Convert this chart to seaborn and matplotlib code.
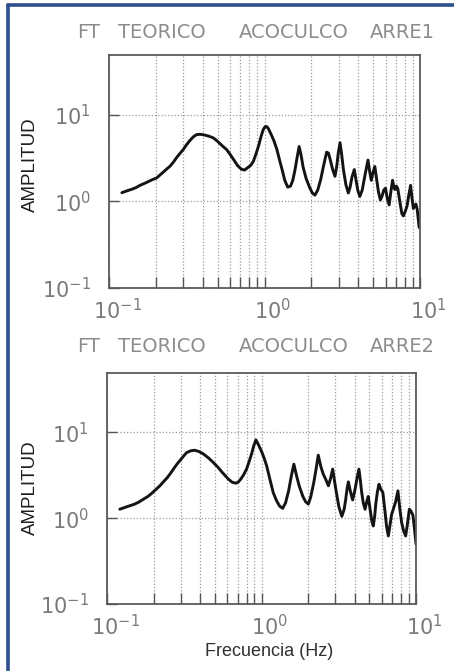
import matplotlib
matplotlib.use("Agg")
import matplotlib.pyplot as plt
import matplotlib.transforms as mtransforms
from matplotlib.lines import Line2D
from matplotlib.ticker import FixedLocator, NullLocator, LogFormatterSciNotation
import pandas as pd
import seaborn as sns

# Theoretical transfer function, array 1 (frequency in Hz, amplitude)
freq_arre1 = [0.121, 0.13, 0.14, 0.15, 0.158, 0.17, 0.18, 0.19, 0.203, 0.215,
              0.225, 0.236, 0.247, 0.26, 0.272, 0.285, 0.30, 0.315, 0.33, 0.348,
              0.366, 0.385, 0.41, 0.44, 0.469, 0.495, 0.52, 0.545, 0.571, 0.60,
              0.64, 0.67, 0.71, 0.745, 0.78, 0.815, 0.848, 0.885, 0.92, 0.95,
              0.98, 1.01, 1.035, 1.06, 1.10, 1.15, 1.20, 1.25, 1.30, 1.35,
              1.41, 1.47, 1.52, 1.57, 1.62, 1.67, 1.72, 1.77, 1.85, 1.95,
              2.03, 2.11, 2.20, 2.30, 2.40, 2.51, 2.58, 2.65, 2.75, 2.84,
              2.92, 2.98, 3.06, 3.14, 3.22, 3.34, 3.46, 3.55, 3.65, 3.78,
              3.88, 3.98, 4.10, 4.25, 4.45, 4.63, 4.75, 4.86, 4.97, 5.12,
              5.25, 5.40, 5.56, 5.70, 5.85, 6.00, 6.15, 6.33, 6.50, 6.66,
              6.80, 6.90, 7.05, 7.20, 7.45, 7.65, 7.82, 8.00, 8.25, 8.45,
              8.70, 8.88, 9.06, 9.25, 9.42, 9.60, 9.75, 9.88]
amp_arre1 = [1.26, 1.32, 1.38, 1.45, 1.53, 1.62, 1.70, 1.78, 1.87, 2.05,
             2.2, 2.38, 2.55, 2.85, 3.2, 3.55, 3.96, 4.5, 5.0, 5.55,
             5.9, 5.95, 5.85, 5.65, 5.4, 5.0, 4.6, 4.25, 3.96, 3.5,
             2.95, 2.6, 2.35, 2.3, 2.45, 2.6, 2.9, 3.6, 4.5, 5.6,
             6.7, 7.3, 7.3, 6.9, 6.0, 5.0, 4.0, 3.0, 2.3, 1.75,
             1.46, 1.5, 1.75, 2.3, 3.2, 4.3, 3.4, 2.5, 1.85, 1.45,
             1.25, 1.18, 1.35, 1.8, 2.6, 3.7, 3.6, 3.0, 2.3, 1.95,
             2.6, 3.6, 4.75, 3.4, 2.3, 1.55, 1.25, 1.45, 1.9, 2.33,
             1.75, 1.35, 1.14, 1.35, 2.1, 3.0, 2.2, 1.75, 2.1, 2.53,
             1.85, 1.3, 1.04, 1.15, 1.35, 1.42, 1.1, 0.91, 1.3, 1.75,
             1.45, 1.37, 1.5, 1.4, 0.95, 0.72, 0.68, 0.75, 0.88, 1.15,
             1.53, 1.1, 0.83, 0.9, 0.93, 0.8, 0.62, 0.50]

# Theoretical transfer function, array 2
freq_arre2 = [0.121, 0.135, 0.15, 0.16, 0.172, 0.185, 0.195, 0.207, 0.22, 0.232,
              0.245, 0.257, 0.269, 0.285, 0.30, 0.315, 0.328, 0.35, 0.37, 0.395,
              0.42, 0.455, 0.488, 0.52, 0.55, 0.58, 0.61, 0.645, 0.684, 0.71,
              0.74, 0.77, 0.80, 0.83, 0.86, 0.89, 0.92, 0.95, 1.00, 1.04,
              1.08, 1.13, 1.19, 1.25, 1.31, 1.37, 1.43, 1.50, 1.56, 1.62,
              1.68, 1.75, 1.85, 1.93, 2.01, 2.08, 2.18, 2.26, 2.33, 2.42,
              2.51, 2.60, 2.71, 2.80, 2.89, 2.97, 3.05, 3.17, 3.31, 3.42,
              3.50, 3.58, 3.65, 3.76, 3.89, 4.02, 4.15, 4.27, 4.36, 4.45,
              4.56, 4.68, 4.80, 4.91, 5.05, 5.18, 5.29, 5.40, 5.50, 5.62,
              5.76, 5.90, 6.10, 6.30, 6.45, 6.62, 6.80, 6.95, 7.13, 7.38,
              7.64, 7.85, 8.07, 8.30, 8.57, 8.80, 9.06, 9.30, 9.55, 9.78,
              10.0]
amp_arre2 = [1.27, 1.36, 1.45, 1.53, 1.66, 1.8, 1.95, 2.15, 2.38, 2.65,
             2.95, 3.3, 3.72, 4.3, 4.8, 5.35, 5.8, 6.1, 6.17, 5.95,
             5.6, 5.0, 4.44, 3.95, 3.5, 3.15, 2.85, 2.62, 2.55, 2.65,
             2.9, 3.25, 3.72, 4.5, 5.5, 6.9, 8.15, 7.3, 6.0, 5.0,
             4.06, 2.9, 1.99, 1.6, 1.38, 1.30, 1.5, 2.1, 3.1, 4.25,
             3.2, 2.4, 1.8, 1.55, 1.46, 1.75, 2.6, 3.8, 5.41, 4.0,
             3.25, 2.85, 2.38, 2.9, 3.72, 2.7, 2.0, 1.35, 1.05, 1.25,
             1.6, 2.2, 2.64, 2.05, 1.63, 2.1, 2.9, 3.72, 2.8, 2.0,
             1.5, 1.27, 1.55, 1.79, 1.25, 0.92, 0.81, 1.05, 1.5, 2.0,
             2.48, 2.2, 1.99, 1.2, 0.8, 0.62, 0.85, 1.1, 1.27, 1.55,
             2.08, 1.3, 0.89, 0.72, 0.62, 0.85, 1.27, 1.2, 1.08, 0.75,
             0.50]

site = "ACOCULCO"
method_words = ["FT", "TEORICO"]
array_names = ["ARRE1", "ARRE2"]
x_label = "Frecuencia (Hz)"
y_label = "AMPLITUD"
x_ticks = [0.1, 1.0, 10.0]
y_ticks = [0.1, 1.0, 10.0]

sns.set_theme(style="white")
plt.rcParams["font.family"] = ["DejaVu Sans"]
plt.rcParams["mathtext.fontset"] = "dejavusans"

W, H = 454, 671
fig = plt.figure(figsize=(W / 100, H / 100), dpi=100)
fig.patch.set_facecolor("white")


def fx(px):
    return px / W


def fy(py):
    return 1 - py / H


panels = [
    dict(freq=freq_arre1, amp=amp_arre1, name=array_names[0],
         rect=(109, 55, 420, 288), title_y=33, ylab_y=165),
    dict(freq=freq_arre2, amp=amp_arre2, name=array_names[1],
         rect=(107, 373, 416, 604), title_y=347, ylab_y=488),
]

minor_x = [m * 10.0 ** e for e in (-1, 0) for m in range(2, 10)]
tick_color = "#7a7a7a"
grid_style = dict(linestyle=(0, (1, 1.6)), color="#9c9c9c", linewidth=0.9)

for p in panels:
    x0, y0, x1, y1 = p["rect"]
    ax = fig.add_axes([fx(x0), fy(y1), fx(x1) - fx(x0), (y1 - y0) / H])
    df = pd.DataFrame({"f": p["freq"], "a": p["amp"]})
    sns.lineplot(data=df, x="f", y="a", ax=ax, color="#141414", linewidth=2.1,
                 sort=False, estimator=None)
    ax.set_xscale("log")
    ax.set_yscale("log")
    ax.set_xlim(0.1, 10)
    ax.set_ylim(0.1, 10 ** 1.69)

    ax.xaxis.set_major_locator(FixedLocator(x_ticks))
    ax.xaxis.set_minor_locator(FixedLocator(minor_x))
    ax.yaxis.set_major_locator(FixedLocator(y_ticks))
    ax.yaxis.set_minor_locator(NullLocator())
    ax.xaxis.set_major_formatter(LogFormatterSciNotation())
    ax.yaxis.set_major_formatter(LogFormatterSciNotation())

    ax.grid(True, which="both", axis="x", **grid_style)
    ax.grid(True, which="major", axis="y", **grid_style)

    ax.tick_params(axis="x", which="both", direction="in", length=8, width=1.0,
                   color="#555555", bottom=True, top=False, labelcolor=tick_color,
                   labelsize=15, pad=7)
    ax.tick_params(axis="y", which="major", direction="in", length=7, width=1.0,
                   color="#555555", left=True, right=False, labelcolor=tick_color,
                   labelsize=15, pad=13)
    for s in ax.spines.values():
        s.set_visible(True)
        s.set_color("#5a5a5a")
        s.set_linewidth(1.3)
    ax.set_xlabel("")
    ax.set_ylabel("")

    # keep the mantissa "10" centred on each decade tick
    shift = mtransforms.ScaledTranslation(6 / 72, 0, fig.dpi_scale_trans)
    for lbl in ax.get_xticklabels():
        lbl.set_transform(lbl.get_transform() + shift)

    # panel heading
    tkw = dict(color="#8c8c8c", fontsize=14, va="center")
    ty = fy(p["title_y"])
    fig.text(fx(77), ty, method_words[0], ha="left", **tkw)
    fig.text(fx(118), ty, method_words[1], ha="left", **tkw)
    fig.text(fx(294), ty, site, ha="center", **tkw)
    fig.text(fx(402), ty, p["name"], ha="center", **tkw)

    fig.text(fx(30), fy(p["ylab_y"]), y_label, rotation=90, ha="center", va="center",
             fontsize=13.5, color="#1e1e1e", family=["Liberation Sans", "DejaVu Sans"])

fig.text(fx(269), fy(652), x_label, ha="center", va="center", fontsize=13,
         color="#303030", family=["Liberation Sans", "DejaVu Sans"])

# page frame
frame = "#2d4f8e"
fig.add_artist(Line2D([fx(8), fx(8)], [0, fy(5)], color=frame, linewidth=2.6))
fig.add_artist(Line2D([fx(8), 1], [fy(5), fy(5)], color=frame, linewidth=2.6))

fig.savefig("out.png", dpi=100, facecolor="white")
